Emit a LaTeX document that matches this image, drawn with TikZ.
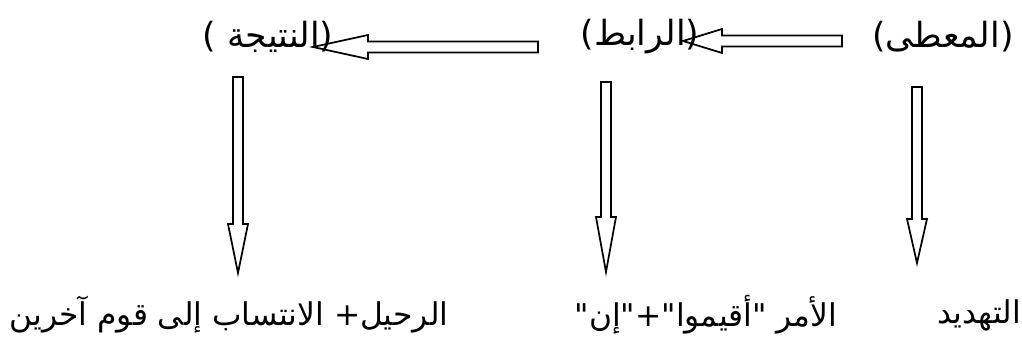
\documentclass[tikz,border=0pt]{standalone}
\usepackage{fontspec}
\usepackage{tikz}
\usetikzlibrary{calc}
\TeXXeTstate=1
\newfontfamily\arabicfont[Script=Arabic]{DejaVu Sans}
\newcommand{\blockarrow}[5]{%
    \coordinate (ah) at ($(#2)!#5!(#1)$);
    \draw[hollow] ($(#1)!#3!90:(#2)$) -- ($(ah)!#3!90:(#2)$) -- ($(ah)!#4!90:(#2)$)
      -- (#2) -- ($(ah)!#4!-90:(#2)$) -- ($(ah)!#3!-90:(#2)$) -- ($(#1)!#3!-90:(#2)$) -- cycle;}

\begin{document}
\begin{tikzpicture}[x=0.75pt, y=-0.75pt,
    hollow/.style={draw, line width=1.3pt, line join=miter},
    toplabel/.style={inner sep=0pt, font=\arabicfont\fontsize{26}{30}\selectfont},
    botlabel/.style={inner sep=0pt, font=\arabicfont\fontsize{23.5}{28}\selectfont}]
    \useasboundingbox (0,0) rectangle (1022,342);
    \node[toplabel] (gv) at (943,37) {\beginR(المعطى)\endR};
    \node[toplabel] (lnk) at (640,37) {\beginR(الرابط)\endR};
    \node[toplabel] (res) at (268,37) {\beginR(النتيجة )\endR};
    \node[botlabel] (thr) at (979,315) {\beginR التهديد\endR};
    \node[botlabel] (cmd) at (706,315) {\beginR الأمر "أقيموا"+"إن"\endR};
    \node[botlabel] (dep) at (229,315) {\beginR الرحيل+ الانتساب إلى قوم آخرين\endR};
    \coordinate (gvout) at (842,41);
    \coordinate (lnkin) at (683,41);
    \coordinate (lnkout) at (538,47);
    \coordinate (resin) at (313,47);
    \coordinate (gvdown) at (917,87);
    \coordinate (thrin) at (917,263);
    \coordinate (lnkdown) at (606,82);
    \coordinate (cmdin) at (606,272);
    \coordinate (resdown) at (238,77);
    \coordinate (depin) at (238,273);
    \blockarrow{gvout}{lnkin}{4.1pt}{9pt}{29.25pt}
    \blockarrow{lnkout}{resin}{4.1pt}{9pt}{41.25pt}
    \blockarrow{gvdown}{thrin}{3.75pt}{7.5pt}{33pt}
    \blockarrow{lnkdown}{cmdin}{3.75pt}{7.5pt}{41.25pt}
    \blockarrow{resdown}{depin}{3.75pt}{7.5pt}{36.75pt}
\end{tikzpicture}
\end{document}
